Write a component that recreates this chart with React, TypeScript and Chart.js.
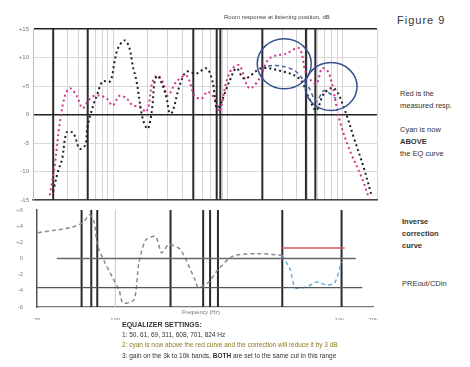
import React, { useEffect, useRef } from "react";
import { Chart, registerables } from "chart.js";
Chart.register(...registerables);

// ---------- top chart data ----------
const topGridFreqs = [20, 30, 40, 50, 60, 70, 80, 90, 100, 200, 300, 400, 500, 600, 700, 800, 900, 1000, 2000, 3000, 4000, 5000, 6000, 7000, 8000, 9000, 10000, 20000];
const topYTicks = [-15, -10, -5, 0, 5, 10, 15];
const topYLabels = ["-15", "-10", "-5", "0", "+5", "+10", "+15"];
const topEqBands = [30, 60, 500, 800, 860, 2000, 4800, 5800];

const measuredFreq = [28, 31, 34, 38, 42, 48, 54, 60, 67, 77, 88, 99, 114, 131, 148, 170, 196, 221, 244, 270, 299, 358, 437, 513, 590, 665, 766, 845, 973, 1097, 1262, 1541, 1884, 2302, 3236, 4195, 4830, 5900, 6650, 7650, 9350, 11420, 14820, 17030];
const measuredDb = [-14.2, -8.9, -1.9, 3.3, 4.6, 3.3, 1.1, 2.3, 3.2, 3.3, 2.8, 1.6, 3.3, 2.8, 1.6, 1.4, 0.5, 5.8, 6.8, 5.8, 3.3, 5.8, 6.8, 3.3, 2.8, 4.0, 2.8, 0.5, 5.8, 8.1, 8.6, 4.6, 6.3, 9.8, 10.7, 11.6, 7.2, 5.4, 8.1, 7.2, -0.7, -6.0, -11.2, -14.7];

const eqCurveFreq = [30, 33, 36, 38, 40, 45, 51, 57, 60, 67, 72, 81, 94, 103, 110, 126, 139, 148, 160, 181, 200, 217, 230, 244, 270, 293, 311, 330, 380, 437, 534, 652, 735, 813, 1033, 1188, 1394, 1960, 2810, 4195, 5130, 5900, 6920, 8450, 10330, 12620, 15420, 17750];
const eqCurveDb = [-13.5, -10, -7.7, -4.2, -3.0, -3.3, -6.0, -5.4, -1.9, 1.6, 3.3, 5.8, 5.8, 9.3, 11.6, 13.0, 11.6, 8.6, 5.8, -0.7, -2.5, 0.5, 5.8, 6.8, 5.1, 2.8, 0.2, 0.5, 5.1, 7.5, 7.2, 8.1, 5.8, 1.1, 5.8, 8.1, 6.3, 8.1, 7.7, 6.3, 2.8, 0.7, 3.7, 4.6, 1.1, -4.2, -9.5, -13.9];

const aboveFreq = [1960, 2440, 3105, 3950, 5130, 5900, 6920, 8800];
const aboveDb = [8.1, 8.6, 8.4, 7.5, 4.6, 2.3, 4.2, 2.8];

const circleFreq = [3105, 7960];
const circleDb = [8.9, 4.9];
const circleRadius = [25, 24];

// ---------- bottom chart data ----------
const botYTicks = [-6, -4, -2, 0, 2, 4, 6];
const botYLabels = ["-6", "-4", "-2", "0", "+2", "+4", "+6"];
const botXTicks = [20, 100, 10000, 20000];
const botXLabels = ["20", "100", "10k", "20k"];
const botEqBands = [50, 61, 69, 311, 608, 701, 824, 3090, 10450];
const botLightLines = [100];

const correctionFreq = [20.4, 28.8, 39, 51, 59, 65, 69, 80, 94, 108, 117, 147, 162, 187, 229, 259, 299, 381, 517, 550, 673, 824, 1120, 1860, 3090];
const correctionDb = [3.2, 3.5, 3.8, 4.4, 5.4, 4.4, 1.7, -0.4, -2.3, -3.9, -5.5, -5.1, -0.6, 2.3, 2.7, 0.7, 1.7, 1.1, -2.7, -3.6, -3.0, -1.4, 0.3, 0.6, 0.4];

const newCorrFreq = [3090, 3640, 4030, 5140, 6300, 7710, 9080, 10450];
const newCorrDb = [0.4, -1.4, -3.6, -3.5, -2.9, -3.3, -3.0, -0.4];

const redLineFreq = [3090, 11120];
const redLineDb = [1.3, 1.3];
const zeroLineFreq = [30, 14000];
const zeroLineDb = [0, 0];
const refLineFreq = [20, 16000];
const refLineDb = [-3.6, -3.6];

const pts = (xs: number[], ys: number[]) => xs.map((x, i) => ({ x, y: ys[i] }));

const vlinesPlugin = {
  id: "vlines",
  beforeDatasetsDraw(chart: any, _args: any, opts: any) {
    const { ctx, chartArea, scales } = chart;
    ctx.save();
    for (const l of opts.lines || []) {
      const x = scales.x.getPixelForValue(l.f);
      ctx.strokeStyle = l.color;
      ctx.lineWidth = l.w;
      ctx.beginPath();
      ctx.moveTo(x, chartArea.top);
      ctx.lineTo(x, chartArea.bottom);
      ctx.stroke();
    }
    ctx.restore();
  },
  afterDatasetsDraw(chart: any, _args: any, opts: any) {
    const { ctx, scales } = chart;
    ctx.save();
    for (const c of opts.circles || []) {
      const x = scales.x.getPixelForValue(c.f);
      const y = scales.y.getPixelForValue(c.v);
      ctx.strokeStyle = c.color;
      ctx.lineWidth = c.w;
      ctx.beginPath();
      ctx.ellipse(x, y, c.r * 1.08, c.r, 0, 0, Math.PI * 2);
      ctx.stroke();
    }
    ctx.restore();
  },
};

const FONT = "'Liberation Sans', Arial, sans-serif";

function TopChart() {
  const ref = useRef<HTMLCanvasElement>(null);
  useEffect(() => {
    const chart = new Chart(ref.current!, {
      type: "line",
      data: {
        datasets: [
          {
            data: pts(eqCurveFreq, eqCurveDb),
            borderColor: "#1e1e1e",
            borderWidth: 2,
            borderDash: [2, 3],
            pointRadius: 0,
            tension: 0.35,
          },
          {
            data: pts(measuredFreq, measuredDb),
            borderColor: "#d2358c",
            borderWidth: 2,
            borderDash: [2, 3],
            pointRadius: 0,
            tension: 0.35,
          },
          {
            data: pts(aboveFreq, aboveDb),
            borderColor: "#4a62a8",
            borderWidth: 1.5,
            borderDash: [4, 3],
            pointRadius: 0,
            tension: 0.3,
          },
        ],
      },
      options: {
        animation: false,
        responsive: false,
        layout: { padding: { top: 29, right: 3, left: 0, bottom: 0 } },
        plugins: {
          legend: { display: false },
          tooltip: { enabled: false },
          vlines: {
            lines: topEqBands.map((f) => ({ f, color: "#2a2a2a", w: 2 })),
            circles: circleFreq.map((f, i) => ({ f, v: circleDb[i], r: circleRadius[i], color: "#34508e", w: 1.5 })),
          },
        } as any,
        scales: {
          x: {
            type: "logarithmic",
            min: 20,
            max: 20000,
            afterBuildTicks: (s: any) => {
              s.ticks = topGridFreqs.map((v) => ({ value: v }));
            },
            afterFit: (s: any) => {
              s.height = 10;
            },
            ticks: { display: false },
            grid: { color: "#d4d4d4", lineWidth: 1, drawTicks: false },
            border: { color: "#444", width: 1.5 },
          },
          y: {
            min: -15,
            max: 15,
            afterBuildTicks: (s: any) => {
              s.ticks = topYTicks.map((v) => ({ value: v }));
            },
            afterFit: (s: any) => {
              s.width = 33;
            },
            ticks: {
              font: { size: 6, family: FONT },
              color: "#777",
              padding: 4,
              callback: (v: any) => topYLabels[topYTicks.indexOf(Number(v))],
            },
            grid: {
              color: (c: any) => (c.tick && (c.tick.value === 0 || c.tick.value === 15) ? "#222" : "#d8d8d8"),
              lineWidth: (c: any) => (c.tick && (c.tick.value === 0 || c.tick.value === 15) ? 1.5 : 1),
              drawTicks: false,
            },
            border: { color: "#bbb", width: 1 },
          },
        },
      },
      plugins: [vlinesPlugin],
    } as any);
    return () => chart.destroy();
  }, []);
  return <canvas ref={ref} width={380} height={210} style={{ position: "absolute", left: 0, top: 0 }} />;
}

function BottomChart() {
  const ref = useRef<HTMLCanvasElement>(null);
  useEffect(() => {
    const chart = new Chart(ref.current!, {
      type: "line",
      data: {
        datasets: [
          { data: pts(refLineFreq, refLineDb), borderColor: "#555", borderWidth: 1.3, pointRadius: 0 },
          { data: pts(zeroLineFreq, zeroLineDb), borderColor: "#666", borderWidth: 1.3, pointRadius: 0 },
          { data: pts(redLineFreq, redLineDb), borderColor: "#e0575a", borderWidth: 1.5, pointRadius: 0 },
          {
            data: pts(correctionFreq, correctionDb),
            borderColor: "#8a8a8a",
            borderWidth: 1.5,
            borderDash: [4, 3],
            pointRadius: 0,
            tension: 0.25,
          },
          {
            data: pts(newCorrFreq, newCorrDb),
            borderColor: "#62aee0",
            borderWidth: 1.5,
            borderDash: [4, 3],
            pointRadius: 0,
            tension: 0.25,
          },
        ],
      },
      options: {
        animation: false,
        responsive: false,
        layout: { padding: { top: 10, right: 3, left: 0, bottom: 0 } },
        plugins: {
          legend: { display: false },
          tooltip: { enabled: false },
          vlines: {
            lines: [
              ...botLightLines.map((f) => ({ f, color: "#c8c8c8", w: 1 })),
              ...botEqBands.map((f) => ({ f, color: "#2a2a2a", w: 2 })),
            ],
          },
        } as any,
        scales: {
          x: {
            type: "logarithmic",
            min: 20,
            max: 20000,
            afterBuildTicks: (s: any) => {
              s.ticks = botXTicks.map((v) => ({ value: v }));
            },
            afterFit: (s: any) => {
              s.height = 13;
            },
            ticks: {
              font: { size: 6, family: FONT },
              color: "#777",
              maxRotation: 0,
              autoSkip: false,
              padding: 2,
              callback: (v: any) => botXLabels[botXTicks.indexOf(Number(v))],
            },
            grid: { display: false },
            border: { color: "#777", width: 1.2 },
          },
          y: {
            min: -6,
            max: 6,
            afterBuildTicks: (s: any) => {
              s.ticks = botYTicks.map((v) => ({ value: v }));
            },
            afterFit: (s: any) => {
              s.width = 37;
            },
            ticks: {
              font: { size: 6, family: FONT },
              color: "#888",
              padding: 6,
              callback: (v: any) => botYLabels[botYTicks.indexOf(Number(v))],
            },
            grid: { display: false },
            border: { color: "#555", width: 1.5 },
          },
        },
      },
      plugins: [vlinesPlugin],
    } as any);
    return () => chart.destroy();
  }, []);
  return <canvas ref={ref} width={380} height={120} style={{ position: "absolute", left: 0, top: 200 }} />;
}

const txt = (left: number, top: number, size: number, extra: any = {}) => ({
  position: "absolute" as const,
  left,
  top,
  fontSize: size,
  lineHeight: 1,
  fontFamily: FONT,
  color: "#333",
  whiteSpace: "nowrap" as const,
  ...extra,
});

export default function App() {
  return (
    <div style={{ position: "fixed", left: 0, top: 0, width: 470, height: 367, background: "#fff", overflow: "hidden" }}>
      <TopChart />
      <BottomChart />
      <div style={txt(224, 14, 6, { color: "#444" })}>Room response at listening position, dB</div>
      <div style={txt(397, 15, 11, { letterSpacing: 1 })}>Figure 9</div>
      <div style={txt(400, 90, 7.5)}>Red is the</div>
      <div style={txt(400, 102, 7.5)}>measured resp.</div>
      <div style={txt(400, 126, 7.5)}>Cyan is now</div>
      <div style={txt(400, 138, 7.5, { fontWeight: "bold" })}>ABOVE</div>
      <div style={txt(400, 150, 7.5)}>the EQ curve</div>
      <div style={txt(402, 218, 7.5, { fontWeight: "bold" })}>Inverse</div>
      <div style={txt(402, 230, 7.5, { fontWeight: "bold" })}>correction</div>
      <div style={txt(402, 242, 7.5, { fontWeight: "bold" })}>curve</div>
      <div style={txt(402, 280, 7.5)}>PREout/CDin</div>
      <div style={txt(182, 310, 5.5, { color: "#777" })}>Frequency (Hz)</div>
      <div style={txt(122, 321, 7, { fontWeight: "bold" })}>EQUALIZER SETTINGS:</div>
      <div style={txt(122, 332, 6.5)}>1: 50, 61, 69, 311, 608, 701, 824 Hz</div>
      <div style={txt(122, 342, 6.5, { color: "#8a7a20" })}>2: cyan is now above the red curve and the correction will reduce it by 3 dB</div>
      <div style={txt(122, 353, 6.5)}>3: gain on the 3k to 10k bands, <b>BOTH</b> are set to the same cut in this range</div>
    </div>
  );
}
